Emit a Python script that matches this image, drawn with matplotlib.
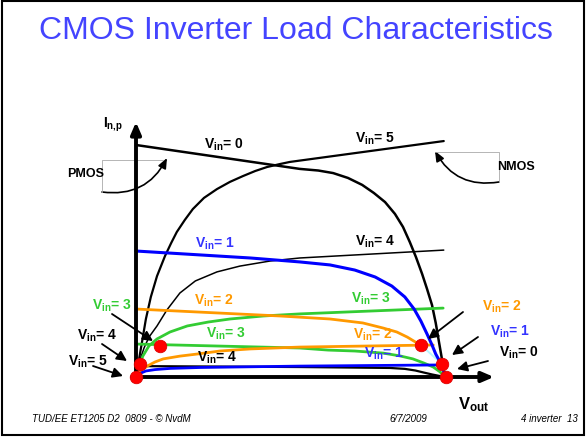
import matplotlib
matplotlib.use("Agg")
import matplotlib.pyplot as plt
from matplotlib.patches import FancyArrowPatch, Rectangle
from matplotlib.transforms import Affine2D

plt.rcParams["font.family"] = ["Liberation Sans", "DejaVu Sans"]
plt.rcParams["mathtext.fontset"] = "custom"
plt.rcParams["mathtext.rm"] = "Liberation Sans:bold"
plt.rcParams["mathtext.it"] = "Liberation Sans:bold"
plt.rcParams["mathtext.bf"] = "Liberation Sans:bold"

# NMOS load curves: Vout (V) and drain current (arbitrary units)
nmos_vin5_vout = [0, 0.05, 0.10, 0.16, 0.24, 0.34, 0.47, 0.57, 0.66, 0.79, 0.92, 1.10,
                  1.31, 1.52, 1.73, 1.93, 2.12, 2.33, 2.49, 4.98]
nmos_vin5_i = [0, 0.78, 1.55, 2.5, 3.45, 4.35, 5.22, 5.78, 6.25, 6.77, 7.24, 7.72,
               8.1, 8.41, 8.66, 8.88, 9.05, 9.18, 9.27, 10.17]
nmos_vin4_vout = [0, 0.03, 0.07, 0.13, 0.21, 0.34, 0.50, 0.71, 0.96, 1.31, 1.68, 2.17,
                  2.65, 4.98]
nmos_vin4_i = [0, 0.39, 0.78, 1.25, 1.72, 2.2, 2.89, 3.62, 4.14, 4.53, 4.78, 5.0,
               5.13, 5.47]
nmos_vin3_vout = [0, 0.05, 0.11, 0.21, 0.34, 0.55, 0.83, 1.17, 1.52, 2.06, 2.65, 4.97]
nmos_vin3_i = [0, 0.43, 0.9, 1.34, 1.64, 1.94, 2.2, 2.37, 2.5, 2.63, 2.72, 2.97]
nmos_vin2_vout = [0, 0.08, 0.18, 0.31, 0.44, 0.71, 0.99, 1.36, 1.85, 2.65, 4.81]
nmos_vin2_i = [0, 0.26, 0.47, 0.65, 0.78, 0.9, 0.99, 1.12, 1.21, 1.29, 1.38]
nmos_vin1_vout = [0, 0.03, 0.08, 0.16, 0.31, 0.55, 1.04, 2.65, 4.94]
nmos_vin1_i = [0, 0.09, 0.17, 0.26, 0.32, 0.37, 0.41, 0.47, 0.52]

# PMOS load curves
pmos_vin0_vout = [0, 2.65, 2.95, 3.19, 3.43, 3.66, 3.85, 4.03, 4.19, 4.32, 4.43, 4.53,
                  4.63, 4.71, 4.79, 4.85, 4.90, 4.95, 5.0]
pmos_vin0_i = [10.0, 8.97, 8.9, 8.79, 8.58, 8.28, 7.93, 7.54, 7.03, 6.47, 5.82, 5.17,
               4.44, 3.79, 3.1, 2.33, 1.55, 0.78, 0]
pmos_vin1_vout = [0, 1.85, 2.65, 3.14, 3.54, 3.87, 4.14, 4.35, 4.50, 4.61, 4.71, 4.79,
                  4.85, 4.92, 4.97, 5.0]
pmos_vin1_i = [5.43, 5.13, 4.96, 4.83, 4.61, 4.31, 3.92, 3.45, 2.93, 2.41, 1.85, 1.38,
               0.99, 0.65, 0.35, 0]
pmos_vin2_vout = [0, 2.33, 3.14, 3.67, 4.0, 4.22, 4.39, 4.52, 4.61]
pmos_vin2_i = [2.93, 2.63, 2.5, 2.33, 2.11, 1.94, 1.72, 1.51, 1.34]
pmos_vin2_tail_vout = [4.61, 4.95]
pmos_vin2_tail_i = [1.38, 0.56]
pmos_vin3_vout = [0, 2.65, 3.11, 3.54, 4.0, 4.27, 4.48, 4.66, 4.81, 4.92, 5.0]
pmos_vin3_i = [1.42, 1.25, 1.16, 1.12, 1.03, 0.91, 0.78, 0.6, 0.43, 0.22, 0]
pmos_vin4_vout = [0, 2.65, 4.11, 4.35, 4.52, 4.66, 4.79, 4.92, 5.0]
pmos_vin4_i = [0.47, 0.43, 0.39, 0.35, 0.28, 0.19, 0.11, 0.04, 0]

# operating points (red dots)
op_vin = [5, 4, 3, 2, 1, 0]
op_vout = [0, 0.07, 0.39, 4.61, 4.95, 5.02]
op_i = [0, 0.56, 1.34, 1.38, 0.56, 0]

BLUE, GREEN, ORANGE = "#0000ff", "#33cc33", "#ff9900"
BLUE_TXT = "#3333ff"

W, H = 587, 439
fig = plt.figure(figsize=(W / 100, H / 100), dpi=100)
ax = fig.add_axes([0, 0, 1, 1])
# origin of the graph sits at pixel (136, 378); 61.8 px per volt, 23.2 px per current unit
ax.set_xlim(-136 / 61.8, (W - 136) / 61.8)
ax.set_ylim(-(H - 378) / 23.2, 378 / 23.2)
ax.axis("off")
px = Affine2D().scale(1 / W, -1 / H).translate(0, 1) + fig.transFigure

# slide frame + title + footer
ax.add_patch(Rectangle((2, 2), 582, 434, transform=px, fill=False, lw=1.5, ec="black"))
ax.text(296, 31, "CMOS Inverter Load Characteristics", transform=px, ha="center",
        va="center", fontsize=23, color="#4444ff")
ax.text(32, 419, "TUD/EE ET1205 D2  0809 - \u00a9 NvdM", transform=px, va="center",
        fontsize=7, style="italic")
ax.text(389, 419, "6/7/2009", transform=px, va="center", fontsize=7, style="italic")
ax.text(521, 419, "4 inverter  13", transform=px, va="center", fontsize=7, style="italic")

# curves
curves = [
    (nmos_vin4_vout, nmos_vin4_i, "black", 1.1),
    (pmos_vin4_vout, pmos_vin4_i, "black", 1.6),
    (nmos_vin5_vout, nmos_vin5_i, "black", 1.6),
    (pmos_vin0_vout, pmos_vin0_i, "black", 1.8),
    (nmos_vin3_vout, nmos_vin3_i, GREEN, 2.0),
    (pmos_vin3_vout, pmos_vin3_i, GREEN, 2.0),
    (nmos_vin2_vout, nmos_vin2_i, ORANGE, 2.0),
    (pmos_vin2_vout, pmos_vin2_i, ORANGE, 2.0),
    (pmos_vin2_tail_vout, pmos_vin2_tail_i, "#b8f4ff", 1.4),
    (nmos_vin1_vout, nmos_vin1_i, BLUE, 2.0),
    (pmos_vin1_vout, pmos_vin1_i, BLUE, 2.2),
]
for v, i, c, lw in curves:
    ax.plot(v, i, color=c, lw=lw, solid_capstyle="round", solid_joinstyle="round", zorder=2)

# axes with arrow heads
for a, b in [((136, 380), (136, 123)), ((132, 378), (494, 378))]:
    ax.add_patch(FancyArrowPatch(a, b, transform=px, lw=2.8, color="black",
                                 arrowstyle="-|>,head_length=0.7,head_width=0.3",
                                 mutation_scale=10, shrinkA=0, shrinkB=0, zorder=3))

ax.plot(op_vout, op_i, "o", ms=9, color="#ff0000", mec="#dd0000", mew=0.6, zorder=5)

ax.text(103, 128, r"$\mathbf{I_{n{,}p}}$", transform=px, fontsize=10, va="baseline")
ax.text(458, 409, r"$\mathbf{V_{out}}$", transform=px, fontsize=12, va="baseline")

# PMOS / NMOS callouts
ax.plot([163, 102, 102], [161, 161, 193], transform=px, color="#aaaaaa", lw=0.6)
ax.plot([435, 499, 499], [153, 153, 183], transform=px, color="#aaaaaa", lw=0.6)
ax.text(67, 174, "PMOS", transform=px, fontsize=9, fontweight="bold", va="center")
ax.text(497, 167, "NMOS", transform=px, fontsize=9, fontweight="bold", va="center")
for a, b, rad in [((102, 193), (167, 159), 0.35), ((499, 183), (435, 152), -0.35)]:
    ax.add_patch(FancyArrowPatch(a, b, transform=px, connectionstyle=f"arc3,rad={rad}",
                                 arrowstyle="-|>,head_length=0.6,head_width=0.25",
                                 mutation_scale=10, lw=1.2, color="black",
                                 shrinkA=0, shrinkB=0))

# Vin labels: (x, baseline) in pixels
label_vin = [0, 5, 1, 4, 2, 3, 3, 2, 4, 1, 3, 4, 5, 2, 1, 0]
label_color = ["black", "black", BLUE_TXT, "black", ORANGE, GREEN, GREEN, ORANGE,
               "black", BLUE_TXT, GREEN, "black", "black", ORANGE, BLUE_TXT, "black"]
label_pos = [(204, 149), (355, 143), (195, 248), (355, 246), (194, 305), (351, 303),
             (206, 338), (353, 339), (197, 362), (364, 358),
             (92, 310), (77, 340), (68, 366), (482, 311), (490, 336), (499, 357)]
for vin, c, (x, y) in zip(label_vin, label_color, label_pos):
    ax.text(x, y, r"$\mathbf{V_{in}}$= %d" % vin, transform=px, fontsize=10,
            fontweight="bold", color=c, va="baseline", zorder=6)

# pointer arrows from the side labels to the operating points
pointers = [((112, 315), (153, 342)), ((102, 345), (127, 362)), ((93, 367), (123, 377)),
            ((463, 313), (428, 340)), ((478, 338), (452, 356)), ((488, 362), (457, 370))]
for a, b in pointers:
    ax.add_patch(FancyArrowPatch(a, b, transform=px, lw=1.3, color="black",
                                 arrowstyle="-|>,head_length=0.6,head_width=0.3",
                                 mutation_scale=10, shrinkA=0, shrinkB=0, zorder=6))

fig.savefig("out.png", dpi=100)
